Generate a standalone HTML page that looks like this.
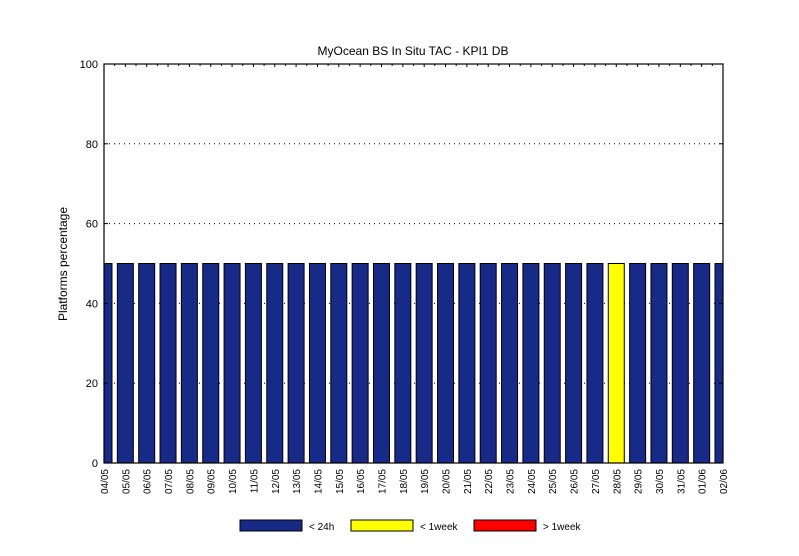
<!DOCTYPE html>
<html><head><meta charset="utf-8"><style>body{margin:0;background:#fff}svg{display:block;font-family:"Liberation Sans",sans-serif}</style></head>
<body>
<svg id="c" width="799" height="556" xmlns="http://www.w3.org/2000/svg">
<rect width="799" height="556" fill="#fff"/>
<text x="413" y="55" font-size="12" text-anchor="middle">MyOcean  BS In Situ TAC - KPI1  DB</text>
<text transform="translate(67,264) rotate(-90)" font-size="12" text-anchor="middle">Platforms percentage</text>
<g id="grid"></g><g id="bars"></g><g id="axes"></g>
<g>
<rect x="240" y="520" width="62" height="11" fill="#172a87" stroke="#000"/>
<text x="309" y="530" font-size="10">&lt; 24h</text>
<rect x="351" y="520" width="62" height="11" fill="#ffff00" stroke="#000"/>
<text x="420" y="530" font-size="10">&lt; 1week</text>
<rect x="474" y="520" width="62" height="11" fill="#ff0000" stroke="#000"/>
<text x="543" y="530" font-size="10">&gt; 1week</text>
</g>
</svg>
<script>
const categories=["04/05","05/05","06/05","07/05","08/05","09/05","10/05","11/05","12/05","13/05","14/05","15/05","16/05","17/05","18/05","19/05","20/05","21/05","22/05","23/05","24/05","25/05","26/05","27/05","28/05","29/05","30/05","31/05","01/06","02/06"];
const under24h=[50,50,50,50,50,50,50,50,50,50,50,50,50,50,50,50,50,50,50,50,50,50,50,50,0,50,50,50,50,50];
const under1week=[0,0,0,0,0,0,0,0,0,0,0,0,0,0,0,0,0,0,0,0,0,0,0,0,50,0,0,0,0,0];
const over1week=[0,0,0,0,0,0,0,0,0,0,0,0,0,0,0,0,0,0,0,0,0,0,0,0,0,0,0,0,0,0];
const yTicks=[0,20,40,60,80,100];
const L=104,R=723,T=64,B=463;
const NS="http://www.w3.org/2000/svg";
const step=(R-L)/(categories.length-1);
function xs(i){return L+i*step;}
function ys(v){return B-(B-T)*v/100;}
function mk(t,a,p){const e=document.createElementNS(NS,t);for(const k in a)e.setAttribute(k,a[k]);p.appendChild(e);return e;}
const grid=document.getElementById('grid'),bars=document.getElementById('bars'),axes=document.getElementById('axes');
mk('rect',{x:L,y:T,width:R-L,height:B-T,fill:'#fff'},grid);
yTicks.forEach(v=>{
  if(v>0&&v<100){const g=mk('line',{x1:L,x2:R,y1:ys(v),y2:ys(v),stroke:'#000','stroke-dasharray':'1 4'},grid);
  
  }
  const t=mk('text',{x:L-6,y:ys(v)+4,'font-size':11,'text-anchor':'end'},axes);t.textContent=v;
  
  
  mk('line',{x1:L,x2:L+4,y1:ys(v),y2:ys(v),stroke:'#000'},axes);
  mk('line',{x1:R,x2:R-4,y1:ys(v),y2:ys(v),stroke:'#000'},axes);
});
const cp=mk('clipPath',{id:'pc'},bars);mk('rect',{x:L,y:T,width:R-L,height:B-T},cp);
const bw=16;
categories.forEach((c,i)=>{
  let base=0;
  [[under24h,'#172a87','24h'],[under1week,'#ffff00','1week'],[over1week,'#ff0000','over-1week']].forEach(([arr,col,nm])=>{
    const v=arr[i];if(v<=0)return;
    const r=mk('rect',{x:xs(i)-bw/2,y:ys(base+v),width:bw,height:ys(base)-ys(base+v),fill:col,stroke:'#000','stroke-width':1,'clip-path':'url(#pc)'},bars);
    
    
    base+=v;
  });
  const t=mk('text',{transform:`translate(${xs(i)+4},${B+6}) rotate(-90)`,'font-size':10,'text-anchor':'end'},axes);t.textContent=c;
  
  
  mk('line',{x1:xs(i),x2:xs(i),y1:T,y2:T+3,stroke:'#000'},axes);
  if(i<categories.length-1)mk('line',{x1:xs(i)+step/2,x2:xs(i)+step/2,y1:T,y2:T+2,stroke:'#000'},axes);
});
mk('rect',{x:L,y:T,width:R-L,height:B-T,fill:'none',stroke:'#000','stroke-width':1.2},axes);
</script>
</body></html>
